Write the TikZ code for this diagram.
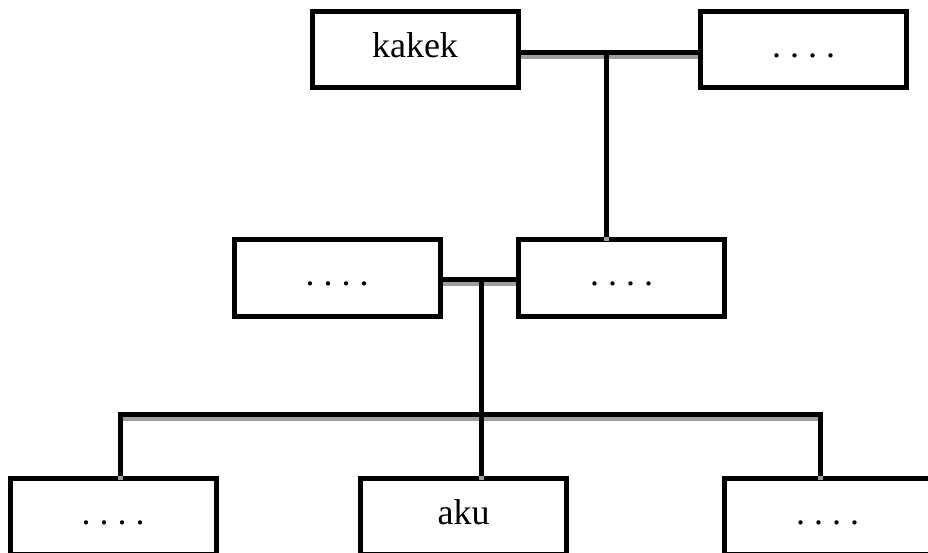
\documentclass[tikz,border=0pt]{standalone}
\usepackage{fontspec}
\setmainfont{Liberation Serif}
\usetikzlibrary{positioning}

\tikzset{
	box/.style = {draw, rectangle, line width = 5pt, fill = white, minimum width = 206pt, minimum height = 76pt, text height = 25pt, text depth = 9pt, font = \fontsize{36}{40}\selectfont},
	link/.style = {line width = 5pt},
	shade/.style = {line width = 5pt, black!38}
}

\begin{document}
\begin{tikzpicture}[x = 1pt, y = 1pt]
	\clip (0,0) rectangle (928,552);
	\node[box] (a) at (415,502) {kakek};
	\node[box] (b) at (803.5,502) {.\ .\ .\ .};
	\node[box] (c) at (337,274) {.\ .\ .\ .};
	\node[box] (d) at (621.5,274) {.\ .\ .\ .};
	\node[box] (e) at (113,35.5) {.\ .\ .\ .};
	\node[box] (f) at (463.5,35.5) {aku};
	\node[box] (g) at (827.5,35.5) {.\ .\ .\ .};
	\coordinate (ab) at (606.5,499.5);
	\coordinate (cd) at (481,272);
	\coordinate (el) at (120.5,137.5);
	\coordinate (gr) at (820.5,137.5);
	\begin{scope}[transform canvas = {yshift = -4pt}]
	\draw[shade] (a.east |- ab) -- (b.west |- ab);
	\draw[shade] (ab) -- (ab |- d.north);
	\draw[shade] (c.east |- cd) -- (d.west |- cd);
	\draw[shade] (cd) -- (cd |- f.north);
	\draw[shade] (e.north -| el) -- (el) -- (gr) -- (g.north -| gr);
	\end{scope}
	\draw[link] (a.east |- ab) -- (b.west |- ab);
	\draw[link] (ab) -- (ab |- d.north);
	\draw[link] (c.east |- cd) -- (d.west |- cd);
	\draw[link] (cd) -- (cd |- f.north);
	\draw[link] (e.north -| el) -- (el) -- (gr) -- (g.north -| gr);
\end{tikzpicture}
\end{document}
